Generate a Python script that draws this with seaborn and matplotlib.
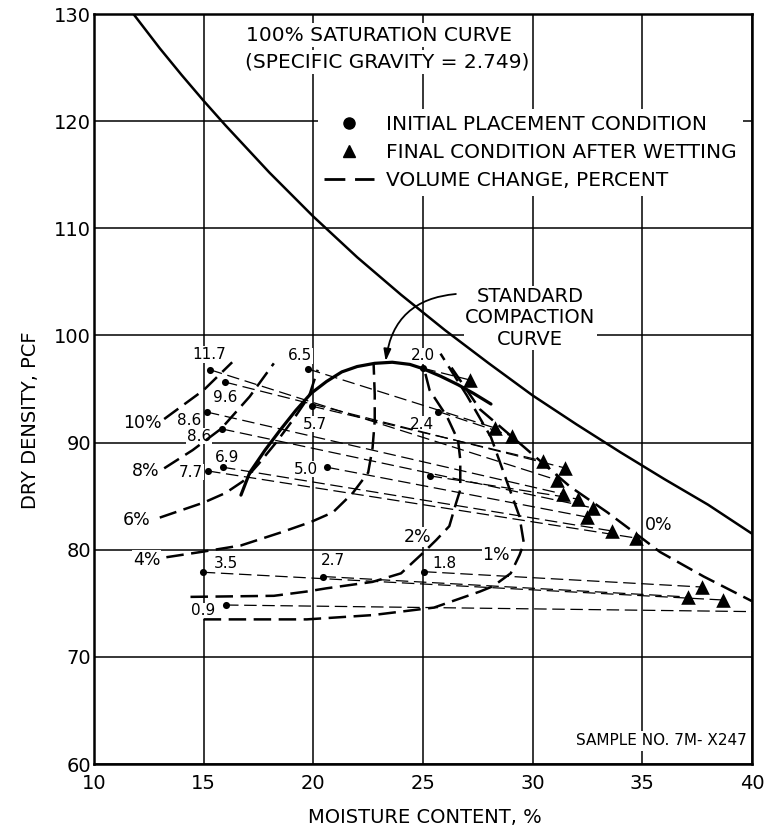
import numpy as np
import pandas as pd
import matplotlib
matplotlib.use("Agg")
import matplotlib.pyplot as plt
import seaborn as sns
from matplotlib.lines import Line2D

# ---------------- data ----------------
sat_x = [11.8, 13, 14, 15, 16, 18, 20, 22, 24, 26, 28, 30, 32, 34, 36, 38, 40]
sat_y = [130.0, 126.8, 124.3, 121.9, 119.6, 115.2, 111.1, 107.3, 103.8, 100.5, 97.4, 94.4, 91.7, 89.1, 86.6, 84.2, 81.5]

comp_x = [16.7, 17.1, 17.8, 18.5, 19.2, 19.9, 20.6, 21.3, 22.0, 22.8, 23.6, 24.4, 25.0, 25.8, 26.6, 27.3, 28.1]
comp_y = [85.1, 87.2, 89.3, 91.2, 93.0, 94.6, 95.7, 96.6, 97.1, 97.4, 97.5, 97.3, 96.9, 96.2, 95.4, 94.6, 93.6]

init_labels = ["11.7", "9.6", "8.6", "8.6", "6.9", "7.7", "6.5", "5.7", "5.0", "2.0", "2.4", "", "3.5", "2.7", "1.8", "0.9"]
init_x = [15.29, 15.97, 15.15, 15.84, 15.88, 15.20, 19.76, 19.94, 20.62, 25.02, 25.70, 25.30, 14.96, 20.46, 25.05, 16.02]
init_y = [96.8, 95.65, 92.85, 91.27, 87.7, 87.35, 96.87, 93.4, 87.7, 96.93, 92.9, 86.9, 77.9, 77.5, 77.95, 74.84]
final_x = [31.11, 31.48, 31.39, 32.75, 33.62, 34.72, 28.29, 30.47, 32.48, 27.15, 29.06, 32.07, 38.68, 37.09, 37.72, 41.0]
final_y = [86.51, 87.63, 85.2, 83.9, 81.75, 81.09, 91.36, 88.28, 83.05, 95.84, 90.61, 84.73, 75.31, 75.59, 76.52, 74.2]

# label anchor positions for the volume-change numbers
num_lab_x = [15.24, 15.97, 14.33, 14.79, 16.06, 14.42, 19.39, 20.08, 19.67, 25.0, 24.96, None, 16.02, 20.9, 25.96, 14.97]
num_lab_y = [98.2, 94.2, 92.1, 90.6, 88.65, 87.25, 98.1, 91.73, 87.53, 98.1, 91.7, None, 78.67, 79.04, 78.76, 74.3]

# volume change contours (percent)
c10_x = [13.2, 14.0, 15.0, 15.6, 16.3]
c10_y = [92.2, 93.4, 94.9, 96.1, 97.5]
c8_x = [13.2, 14.5, 15.8, 17.1, 18.2]
c8_y = [87.6, 89.3, 91.3, 94.3, 97.4]
c6_x = [13.0, 14.0, 15.0, 16.0, 16.8, 17.5, 18.3, 19.1, 19.8, 20.2]
c6_y = [83.0, 83.7, 84.4, 85.3, 86.4, 88.0, 90.0, 92.2, 94.3, 96.8]
c4_x = [13.3, 14.9, 16.7, 18.5, 19.9, 20.9, 21.8, 22.5, 22.7, 22.8, 22.8, 22.75]
c4_y = [79.3, 79.8, 80.4, 81.6, 82.6, 83.5, 85.3, 87.2, 89.5, 92.0, 94.5, 97.3]
c2_x = [14.4, 18.2, 19.7, 20.6, 22.7, 24.0, 25.0, 25.6, 26.2, 26.5, 26.7, 26.7, 26.6, 26.1, 25.3, 25.1]
c2_y = [75.6, 75.7, 76.1, 76.4, 77.0, 77.8, 79.7, 80.9, 82.2, 84.3, 85.6, 88.4, 90.2, 92.4, 94.9, 96.5]
c1_x = [15.0, 19.7, 22.7, 25.5, 27.6, 28.2, 29.0, 29.4, 29.6, 29.4, 28.8, 28.1, 27.0, 25.8]
c1_y = [73.5, 73.5, 73.9, 74.6, 76.1, 76.6, 77.8, 79.5, 80.6, 83.1, 86.5, 90.5, 94.4, 98.3]
c0_x = [26.3, 27.6, 29.6, 31.7, 33.4, 34.9, 35.8, 37.8, 40.0]
c0_y = [97.0, 93.1, 89.6, 85.9, 83.5, 81.2, 79.8, 77.5, 75.2]

contour_labels = ["10%", "8%", "6%", "4%", "2%", "1%", "0%"]
contour_lab_x = [12.19, 12.37, 11.96, 12.4, 24.77, 28.33, 35.76]
contour_lab_y = [91.8, 87.35, 82.77, 79.04, 81.2, 79.5, 82.3]

x_ticks = [10, 15, 20, 25, 30, 35, 40]
y_ticks = [60, 70, 80, 90, 100, 110, 120, 130]

# ---------------- style ----------------
sns.set_style("white")
plt.rcParams["font.family"] = ["DejaVu Sans"]
plt.rcParams["text.color"] = "black"
plt.rcParams["axes.labelcolor"] = "black"
plt.rcParams["xtick.color"] = "black"
plt.rcParams["ytick.color"] = "black"

fig = plt.figure(figsize=(7.66, 8.36), dpi=100)
ax = fig.add_axes([0.1227, 0.0861, 0.859, 0.8971])
ax.set_xlim(10, 40)
ax.set_ylim(60, 130)
ax.set_xticks(x_ticks)
ax.set_yticks(y_ticks)
ax.grid(True, color="black", linewidth=1.1)
ax.set_axisbelow(True)
for s in ax.spines.values():
    s.set_color("black")
    s.set_linewidth(1.8)
ax.tick_params(axis="both", length=0, labelsize=14, colors="black")
ax.tick_params(axis="x", pad=7)
ax.tick_params(axis="y", pad=2)

ax.set_xlabel("MOISTURE CONTENT, %", fontsize=14, color="black")
ax.set_ylabel("DRY DENSITY, PCF", fontsize=14, color="black")
ax.xaxis.set_label_coords(0.503, -0.058)
ax.yaxis.set_label_coords(-0.082, 0.459)

# saturation curve
sns.lineplot(x=sat_x, y=sat_y, sort=False, estimator=None, color="black", linewidth=1.8, ax=ax, legend=False)
# compaction curve
sns.lineplot(x=comp_x, y=comp_y, sort=False, estimator=None, color="black", linewidth=2.3, ax=ax, legend=False)

# volume change contours
thick_dash = (0, (7.0, 3.0))
for cx, cy in [(c10_x, c10_y), (c8_x, c8_y), (c6_x, c6_y), (c4_x, c4_y),
               (c2_x, c2_y), (c1_x, c1_y), (c0_x, c0_y)]:
    sns.lineplot(x=cx, y=cy, sort=False, estimator=None, color="black", linewidth=1.8,
                 linestyle=thick_dash, ax=ax, legend=False)

# initial -> final connecting lines
n = len(init_x)
pairs = pd.DataFrame({
    "pair": list(range(n)) * 2,
    "x": init_x + final_x,
    "y": init_y + final_y,
    "order": [0] * n + [1] * n,
}).sort_values(["pair", "order"])
sns.lineplot(data=pairs, x="x", y="y", units="pair", estimator=None, sort=False,
             color="black", linewidth=0.9, linestyle=(0, (10, 4.5)), ax=ax, legend=False)

sns.scatterplot(x=init_x, y=init_y, marker="o", s=26, color="black", linewidth=0, ax=ax, zorder=5, legend=False)
sns.scatterplot(x=final_x, y=final_y, marker="^", s=110, color="black", linewidth=0, ax=ax, zorder=5, legend=False)

# labels
for lab, lx, ly in zip(init_labels, num_lab_x, num_lab_y):
    if lab:
        ax.text(lx, ly, lab, fontsize=11, ha="center", va="center", zorder=1.5,
                bbox=dict(facecolor="white", edgecolor="none", pad=0.5))
for lab, lx, ly in zip(contour_labels, contour_lab_x, contour_lab_y):
    ax.text(lx, ly, lab, fontsize=12.5, ha="center", va="center", zorder=1.5,
            bbox=dict(facecolor="white", edgecolor="none", pad=0.5))

ax.text(0.433, 0.972, "100% SATURATION CURVE", transform=ax.transAxes, fontsize=14.5,
        ha="center", va="center", zorder=1.5, bbox=dict(facecolor="white", edgecolor="none", pad=2))
ax.text(0.446, 0.936, "(SPECIFIC GRAVITY = 2.749)", transform=ax.transAxes, fontsize=14.5,
        ha="center", va="center", zorder=1.5, bbox=dict(facecolor="white", edgecolor="none", pad=2))

ax.text(29.88, 101.63, "STANDARD\nCOMPACTION\nCURVE", fontsize=14, ha="center", va="center",
        linespacing=1.15, zorder=1.5, bbox=dict(facecolor="white", edgecolor="none", pad=1))
ax.annotate("", xy=(23.3, 97.6), xytext=(26.5, 103.87),
            arrowprops=dict(arrowstyle="-|>,head_length=0.7,head_width=0.22", color="black",
                            lw=1.3, connectionstyle="arc3,rad=0.4", shrinkA=0, shrinkB=0))

ax.text(0.862, 0.0307, "SAMPLE NO. 7M- X247", transform=ax.transAxes, fontsize=11,
        ha="center", va="center", zorder=1.5, bbox=dict(facecolor="white", edgecolor="none", pad=2))

# legend
h1 = Line2D([], [], marker="o", color="black", linestyle="none", markersize=8)
h2 = Line2D([], [], marker="^", color="black", linestyle="none", markersize=9)
h3 = Line2D([], [], color="black", linestyle=(0, (7.5, 3.5)), linewidth=2)
leg = ax.legend([h1, h2, h3],
                ["INITIAL PLACEMENT CONDITION", "FINAL CONDITION AFTER WETTING", "VOLUME CHANGE, PERCENT"],
                loc="upper left", bbox_to_anchor=(0.340, 0.874), frameon=True, fancybox=False,
                edgecolor="white", facecolor="white", framealpha=1, fontsize=14.5,
                handlelength=2.5, handletextpad=0.6, labelspacing=0.45, borderpad=0.3,
                borderaxespad=0)
leg.get_frame().set_linewidth(0)
for t in leg.get_texts():
    t.set_color("black")

fig.savefig("out.png", dpi=100)
